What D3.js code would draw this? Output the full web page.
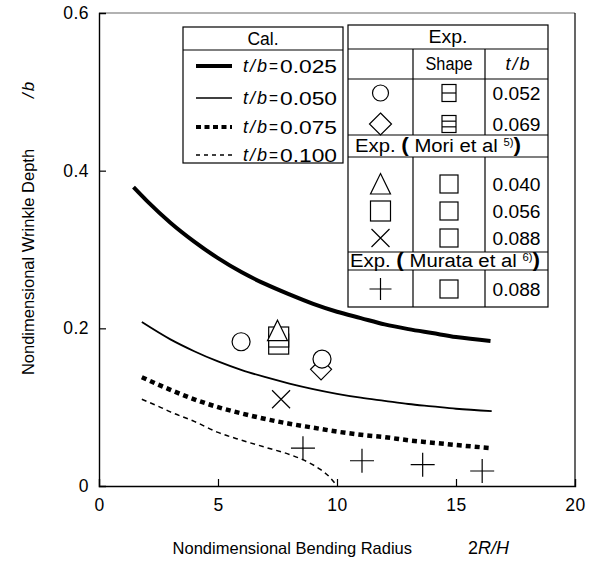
<!DOCTYPE html>
<html><head><meta charset="utf-8">
<script src="https://cdn.jsdelivr.net/npm/d3@7"></script>
<style>
html,body{margin:0;padding:0;background:#fff;}
svg text{font-family:"Liberation Sans",Arial,sans-serif;}
</style></head>
<body>
<svg id="c" width="596" height="562"></svg>
<script>
// ---- data ----
const xTicks = [0, 5, 10, 15, 20];
const yTicks = [0, 0.2, 0.4, 0.6];
const yTickLabels = ["0", "0.2", "0.4", "0.6"];
const calLabels = ["0.025", "0.050", "0.075", "0.100"];
const cal025 = [[1.45,0.379],[2,0.362],[3,0.334],[4,0.310],[5,0.289],[6,0.271],[7,0.256],[8,0.243],[9,0.231],[10,0.221],[11,0.213],[12,0.205],[13,0.199],[14,0.194],[15,0.189],[16.45,0.184]];
const cal050 = [[1.8,0.208],[3,0.186],[4,0.171],[5,0.158],[6,0.147],[7,0.138],[8,0.130],[9,0.123],[10,0.117],[11,0.112],[12,0.108],[13,0.104],[14,0.101],[15,0.098],[16.5,0.095]];
const cal075 = [[1.8,0.138],[3,0.122],[4,0.110],[5,0.100],[6,0.092],[7,0.085],[8,0.079],[9,0.074],[10,0.069],[11,0.065],[12,0.062],[13,0.058],[14,0.055],[15,0.052],[16.5,0.048]];
const cal100 = [[1.8,0.110],[2.5,0.101],[3,0.094],[4,0.082],[5,0.068],[6,0.058],[7,0.049],[8,0.040],[8.8,0.030],[9.3,0.021],[9.7,0.011],[10,0.0]];
const expCircle = [[5.97,0.183],[9.37,0.161]];
const expDiamond = [[9.33,0.148]];
const moriTriangle = [[7.5,0.197]];
const moriSquare = [[7.55,0.189],[7.55,0.180]];
const moriCross = [[7.65,0.110]];
const murataPlus = [[8.57,0.048],[11.05,0.032],[13.6,0.027],[16.1,0.019]];
const expTb = ["0.052", "0.069"];
const moriTb = ["0.040", "0.056", "0.088"];
const murataTb = ["0.088"];

// ---- layout ----
const svg = d3.select("#c");
const x = d3.scaleLinear().domain([0, 20]).range([99, 575]);
const y = d3.scaleLinear().domain([0, 0.6]).range([486, 13]);
const SERIF = "Liberation Serif, Times New Roman, serif";

// frame
svg.append("line").attr("x1",99).attr("x2",575).attr("y1",13).attr("y2",13).attr("stroke","#666").attr("stroke-width",1.2);
svg.append("line").attr("x1",575).attr("x2",575).attr("y1",13).attr("y2",486).attr("stroke","#000").attr("stroke-width",1.2);

// axes (inward ticks)
const xAxis = d3.axisBottom(x).tickValues(xTicks).tickSize(-7).tickPadding(13).tickFormat(d3.format("d"));
const gx = svg.append("g").attr("transform","translate(0,486)").call(xAxis);
const yAxis = d3.axisLeft(y).tickValues(yTicks).tickSize(-7).tickPadding(10).tickFormat((d,i)=>yTickLabels[i]);
const gy = svg.append("g").attr("transform","translate(99,0)").call(yAxis);
[gx, gy].forEach(g => {
  g.select(".domain").attr("stroke","#000").attr("stroke-width",1.4);
  g.selectAll(".tick line").attr("stroke","#000").attr("stroke-width",1.2);
  g.selectAll(".tick text").attr("font-size",17.5).attr("fill","#000").attr("font-family","Liberation Sans, Arial, sans-serif").attr("letter-spacing",0.5);
});
gx.selectAll(".tick").filter(d => d===0 || d===20).select("line").remove();
gy.selectAll(".tick").filter(d => d===0 || d===0.6).select("line").remove();

// axis titles
svg.append("text").attr("transform","translate(34,262) rotate(-90)").attr("text-anchor","middle")
  .attr("font-size",16.5).text("Nondimensional Wrinkle Depth");
const yb = svg.append("text").attr("transform","translate(34,90) rotate(-90)").attr("text-anchor","middle")
  .attr("font-size",17).attr("font-style","italic").attr("font-family",SERIF);
yb.append("tspan").text("/");
yb.append("tspan").attr("dx",2).text("b");
svg.append("text").attr("x",412).attr("y",554).attr("text-anchor","end").attr("font-size",16.5).text("Nondimensional Bending Radius");
const xt2 = svg.append("text").attr("x",468).attr("y",554).attr("font-size",18).attr("font-family",SERIF);
xt2.append("tspan").text("2");
xt2.append("tspan").attr("font-style","italic").text("R/H");

// curves
const line = d3.line().x(d=>x(d[0])).y(d=>y(d[1])).curve(d3.curveMonotoneX);
const curveStyles = [
  {data: cal025, w: 4, dash: null, lw: 4, ldash: null},
  {data: cal050, w: 1.8, dash: null, lw: 1.6, ldash: null},
  {data: cal075, w: 4.5, dash: "5,4", lw: 4, ldash: "5,3.5"},
  {data: cal100, w: 1.5, dash: "5,4", lw: 1.4, ldash: "4,4"}
];
curveStyles.forEach(s => {
  svg.append("path").attr("d", line(s.data)).attr("fill","none").attr("stroke","#000")
    .attr("stroke-width", s.w).attr("stroke-dasharray", s.dash);
});

// marker drawing
function marker(g, type, cx, cy, s) {
  let el;
  if (type === "circle") el = g.append("circle").attr("cx",cx).attr("cy",cy).attr("r",s);
  else if (type === "diamond") el = g.append("path").attr("d",`M${cx},${cy-s}L${cx+s},${cy}L${cx},${cy+s}L${cx-s},${cy}Z`);
  else if (type === "triangle") el = g.append("path").attr("d",`M${cx},${cy-s*1.05}L${cx+s},${cy+s}L${cx-s},${cy+s}Z`);
  else if (type === "square") el = g.append("rect").attr("x",cx-s).attr("y",cy-s).attr("width",2*s).attr("height",2*s);
  else if (type === "cross") el = g.append("path").attr("d",`M${cx-s},${cy-s}L${cx+s},${cy+s}M${cx-s},${cy+s}L${cx+s},${cy-s}`);
  else if (type === "plus") el = g.append("path").attr("d",`M${cx-s},${cy}L${cx+s},${cy}M${cx},${cy-s}L${cx},${cy+s}`);
  el.attr("stroke","#000").attr("stroke-width",1.2)
    .attr("fill", (type==="cross"||type==="plus") ? "none" : "#fff");
  return el;
}
const mg = svg.append("g");
moriSquare.slice().reverse().forEach(d => marker(mg,"square",x(d[0]),y(d[1]),10));
moriTriangle.forEach(d => marker(mg,"triangle",x(d[0]),y(d[1]),10));
expDiamond.forEach(d => marker(mg,"diamond",x(d[0]),y(d[1]),10.5));
expCircle.forEach(d => marker(mg,"circle",x(d[0]),y(d[1]),9));
moriCross.forEach(d => marker(mg,"cross",x(d[0]),y(d[1]),9));
murataPlus.forEach(d => marker(mg,"plus",x(d[0]),y(d[1]),12));

// text helpers
function txt(g, xx, yy, str, o) {
  o = o || {};
  const t = g.append("text").attr("x",xx).attr("y",yy).attr("font-size",o.size||18)
    .attr("text-anchor",o.anchor||"start").text(str);
  if (o.width) t.attr("textLength",o.width).attr("lengthAdjust","spacingAndGlyphs");
  return t;
}
function tb(g, xx, yy, anchor) {
  const t = g.append("text").attr("x",xx).attr("y",yy).attr("font-size",18)
    .attr("text-anchor",anchor||"start").attr("font-family",SERIF).attr("font-style","italic");
  t.append("tspan").text("t");
  t.append("tspan").attr("dx",2).text("/");
  t.append("tspan").attr("dx",2).text("b");
  return t;
}

// ---- legend 1 (Cal.) ----
const L1 = svg.append("g");
L1.append("rect").attr("x",183).attr("y",27).attr("width",160).attr("height",136).attr("fill","#fff").attr("stroke","#000").attr("stroke-width",1.2);
L1.append("line").attr("x1",183).attr("x2",343).attr("y1",50).attr("y2",50).attr("stroke","#000").attr("stroke-width",1.2);
txt(L1, 263, 45, "Cal.", {size:17.5, anchor:"middle"});
const rowsY1 = [66, 98, 127, 155];
curveStyles.forEach((s,i) => {
  L1.append("line").attr("x1",196).attr("x2",232).attr("y1",rowsY1[i]).attr("y2",rowsY1[i]).attr("stroke","#000")
    .attr("stroke-width", s.lw).attr("stroke-dasharray", s.ldash);
  tb(L1, 243, rowsY1[i]+6);
  txt(L1, 269, rowsY1[i]+6, "=", {size:18, width:9});
  txt(L1, 280, rowsY1[i]+6.5, calLabels[i], {size:18, width:57});
});

// ---- legend 2 (Exp.) ----
const L2 = svg.append("g");
const lx0 = 348, lx1 = 413, lx2 = 485, lx3 = 548;
L2.append("rect").attr("x",lx0).attr("y",25).attr("width",lx3-lx0).attr("height",282).attr("fill","#fff").attr("stroke","#000").attr("stroke-width",1.2);
const hl = (yy) => L2.append("line").attr("x1",lx0).attr("x2",lx3).attr("y1",yy).attr("y2",yy).attr("stroke","#000").attr("stroke-width",1.2);
[49, 79, 135, 157, 252, 270].forEach(hl);
const vl = (xx, y1, y2) => L2.append("line").attr("x1",xx).attr("x2",xx).attr("y1",y1).attr("y2",y2).attr("stroke","#000").attr("stroke-width",1.2);
[[49,135],[157,252],[270,307]].forEach(([a,b]) => { vl(lx1,a,b); vl(lx2,a,b); });
const c1 = (lx0+lx1)/2, c2 = (lx1+lx2)/2, c3 = (lx2+lx3)/2;
txt(L2, (lx0+lx3)/2, 43, "Exp.", {size:18, anchor:"middle", width:39});
txt(L2, c2, 70, "Shape", {size:17.5, anchor:"middle", width:47});
tb(L2, c3+1, 70, "middle");
function shapeIcon(cx, cy, w, h, n) {
  L2.append("rect").attr("x",cx-w/2).attr("y",cy-h/2).attr("width",w).attr("height",h).attr("fill","#fff").attr("stroke","#000").attr("stroke-width",1.2);
  for (let k=1;k<n;k++) {
    const yy = cy - h/2 + h*k/n;
    L2.append("line").attr("x1",cx-w/2).attr("x2",cx+w/2).attr("y1",yy).attr("y2",yy).attr("stroke","#000").attr("stroke-width",1.2);
  }
}
function rowText(cy, str) { txt(L2, c3, cy+6.5, str, {size:18, anchor:"middle", width:48}); }
// Exp rows
marker(L2,"circle",c1,93,8);    shapeIcon(c2,93,14,17,2); rowText(93, expTb[0]);
marker(L2,"diamond",c1,124,11); shapeIcon(c2,124,14,17,3); rowText(124, expTb[1]);
function header(cy, x0, x1, name, sup) {
  const t = L2.append("text").attr("x",x0).attr("y",cy+6).attr("font-size",18)
    .attr("textLength", x1-x0).attr("lengthAdjust","spacingAndGlyphs");
  t.append("tspan").text("Exp. ");
  t.append("tspan").attr("font-size",20).attr("font-weight","bold").text("(");
  t.append("tspan").text(" " + name + " ");
  t.append("tspan").attr("font-size",10).attr("dy",-6).text(sup + ")");
  t.append("tspan").attr("font-size",20).attr("font-weight","bold").attr("dy",6).text(")");
}
header(146, 355, 521, "Mori et al", "5");
const moriRows = [184, 211, 238];
const moriTypes = ["triangle","square","cross"];
moriRows.forEach((cy,i) => {
  marker(L2, moriTypes[i], c1, cy, i===2?9:10);
  shapeIcon(c2, cy, 18, 18, 1);
  rowText(cy, moriTb[i]);
});
header(261, 350, 540, "Murata et al", "6");
marker(L2,"plus",c1,289,11); shapeIcon(c2,289,18,18,1); rowText(289, murataTb[0]);
</script>
</body></html>
